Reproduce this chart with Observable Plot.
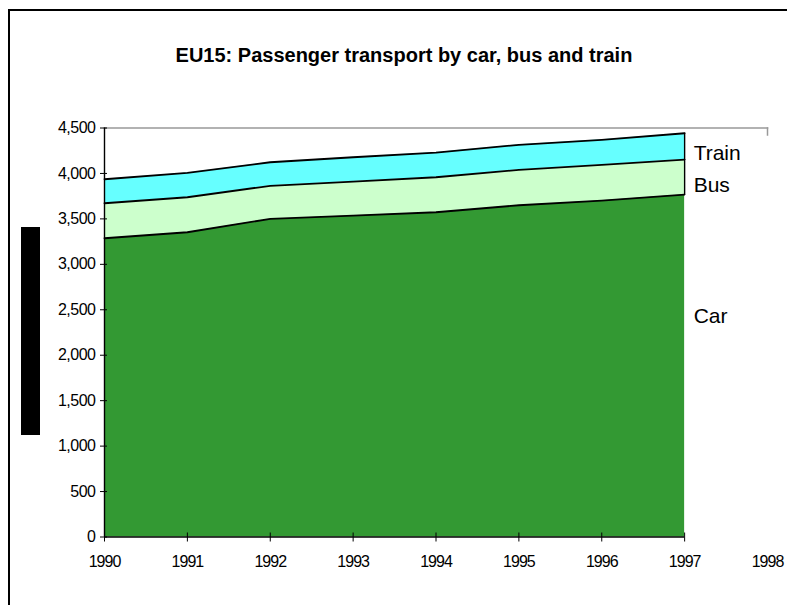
<!DOCTYPE html>
<html><head><meta charset="utf-8">
<script src="https://cdn.jsdelivr.net/npm/d3@7"></script>
<script src="https://cdn.jsdelivr.net/npm/@observablehq/plot@0.6"></script>
<style>
html,body{margin:0;padding:0;background:#fff;}
#wrap{position:relative;width:787px;height:605px;overflow:hidden;font-family:"Liberation Sans",Arial,sans-serif;background:#fff;}
#frame{position:absolute;left:8px;top:9px;width:800px;height:620px;border-left:2.5px solid #000;border-top:2.5px solid #000;}
#title{position:absolute;left:0;top:45px;width:808px;text-align:center;font-size:20px;font-weight:bold;line-height:20px;color:#000;white-space:nowrap;}
#ytitle{position:absolute;left:21px;top:227px;width:19px;height:208px;background:#000;}
#chart{position:absolute;left:0;top:0;}
#chart g[aria-label="x-axis tick label"] text{letter-spacing:-1px;}
#chart g[aria-label="y-axis tick label"] text{letter-spacing:-0.5px;}
#chart g[aria-label="series-label"] text{letter-spacing:-0.8px;}
</style></head><body>
<div id="wrap">
  <div id="frame"></div>
  <div id="title">EU15: Passenger transport by car, bus and train</div>
  <div id="ytitle"></div>
  <div id="chart"></div>
</div>
<script>
// ---- data ----
const years = [1990, 1991, 1992, 1993, 1994, 1995, 1996, 1997];
const axisYears = [1990, 1991, 1992, 1993, 1994, 1995, 1996, 1997, 1998];
const yTicks = [0, 500, 1000, 1500, 2000, 2500, 3000, 3500, 4000, 4500];
const modes = ["Car", "Bus", "Train"];
const car   = [3287, 3353, 3500, 3537, 3573, 3650, 3702, 3768];
const bus   = [385, 385, 364, 374, 385, 390, 393, 385];
const train = [264, 268, 259, 267, 272, 275, 275, 289];
const colors = ["#339933", "#CCFFCC", "#66FFFF"];

const seriesList = [car, bus, train];
const rows = modes.flatMap((m, k) => years.map((yr, i) => ({year: yr, mode: m, value: seriesList[k][i]})));
const lastYear = years[years.length - 1];
// cumulative top of each band at the last year (for labels)
let acc = 0;
const labelRows = modes.map((m, k) => {
  acc += seriesList[k][seriesList[k].length - 1];
  return {year: lastYear, mode: m, top: acc};
});
const lastTotal = acc;
const lastCar = car[car.length - 1];

const font = "Liberation Sans, Arial, sans-serif";
const labelMark = (m, dy) => Plot.text(labelRows.filter(d => d.mode === m), {
  x: "year", y: "top", text: "mode",
  textAnchor: "start", dx: 9, dy, fontSize: 21, fill: "#000", ariaLabel: "series-label"
});

const chart = Plot.plot({
  width: 787, height: 605,
  marginLeft: 104, marginRight: 20, marginTop: 127.5, marginBottom: 68.5,
  style: {fontFamily: font, background: "transparent", color: "#000"},
  x: {domain: [1990, 1998]},
  y: {domain: [0, 4500]},
  color: {domain: modes, range: colors},
  marks: [
    Plot.areaY(rows, {x: "year", y: "value", z: "mode", fill: "mode", order: modes}),
    Plot.lineY(rows, Plot.stackY2({x: "year", y: "value", z: "mode", order: modes, stroke: "#000", strokeWidth: 1.8})),
    Plot.ruleX([lastYear], {y1: lastCar, y2: lastTotal, stroke: "#000", strokeWidth: 1.4}),
    Plot.frame({anchor: "top", stroke: "#999", strokeWidth: 1.5}),
    Plot.frame({anchor: "right", stroke: "#999", strokeWidth: 1.5, insetBottom: 402}),
    Plot.ruleX([years[0]], {stroke: "#000", strokeWidth: 1.4}),
    Plot.ruleY([0], {x1: years[0], x2: lastYear, stroke: "#000", strokeWidth: 1.4}),
    Plot.axisY(yTicks, {tickSize: 7, dx: 3, tickFormat: () => "", stroke: "#000", label: null}),
    Plot.axisY(yTicks, {tickSize: 0, tickPadding: 9, tickFormat: d3.format(","), fontSize: 16, fill: "#000", label: null}),
    Plot.axisX(years, {tickSize: 9, dy: -4, tickFormat: () => "", stroke: "#000", label: null}),
    Plot.axisX(axisYears, {tickSize: 0, tickPadding: 19, tickFormat: d => String(d), fontSize: 16, fill: "#000", label: null}),
    labelMark("Train", 20),
    labelMark("Bus", 26),
    labelMark("Car", 122)
  ]
});
document.getElementById("chart").appendChild(chart);
</script>
</body></html>
